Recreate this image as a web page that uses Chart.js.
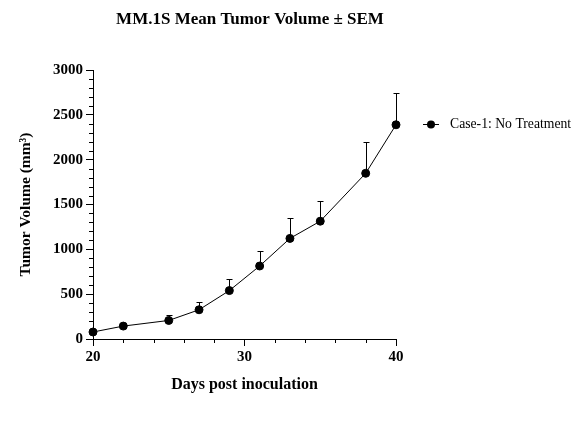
<!DOCTYPE html>
<html>
<head>
<meta charset="utf-8">
<script src="https://cdn.jsdelivr.net/npm/chart.js@4"></script>
<style>
  html, body { margin: 0; padding: 0; background: #fff; }
  #chart-container { position: relative; width: 581px; height: 424px; }
</style>
</head>
<body>
<div id="chart-container"><canvas id="chart" width="581" height="424"></canvas></div>
<script>
const days = [20, 22, 25, 27, 29, 31, 33, 35, 38, 40];
const meanVolume = [78, 144, 207, 326, 540, 814, 1122, 1314, 1848, 2389];
const semVolume = [6, 10, 60, 92, 127, 167, 222, 230, 352, 355];
const yTicks = [0, 500, 1000, 1500, 2000, 2500, 3000];
const xTicks = [20, 30, 40];

const serif = "'Liberation Serif', 'Times New Roman', serif";

// error bars (upper only) + minor ticks + title + legend
const extras = {
  id: 'extras',
  beforeDatasetsDraw(chart) {
    const c = chart.ctx;
    const xs = chart.scales.x, ys = chart.scales.y;
    c.save();
    c.strokeStyle = '#000';
    c.lineWidth = 1;
    days.forEach((d, i) => {
      const px = Math.round(xs.getPixelForValue(d)) + 0.5;
      const y0 = ys.getPixelForValue(meanVolume[i]);
      const y1 = Math.round(ys.getPixelForValue(meanVolume[i] + semVolume[i])) + 0.5;
      c.beginPath();
      c.moveTo(px, y0);
      c.lineTo(px, y1);
      c.moveTo(px - 3, y1);
      c.lineTo(px + 3, y1);
      c.stroke();
    });
    c.restore();
  },
  afterDraw(chart) {
    const c = chart.ctx;
    const xs = chart.scales.x, ys = chart.scales.y;
    const area = chart.chartArea;
    c.save();
    c.strokeStyle = '#000';
    c.lineWidth = 1;
    c.beginPath();
    for (let v = 100; v < 3000; v += 100) {
      if (v % 500 === 0) continue;
      const py = Math.round(ys.getPixelForValue(v)) + 0.5;
      c.moveTo(area.left - 4, py);
      c.lineTo(area.left, py);
    }
    for (let v = 22; v < 40; v += 2) {
      if (v % 10 === 0) continue;
      const px = Math.round(xs.getPixelForValue(v)) + 0.5;
      c.moveTo(px, area.bottom);
      c.lineTo(px, area.bottom + 4);
    }
    c.stroke();

    // title
    c.fillStyle = '#000';
    c.font = 'bold 17px ' + serif;
    c.textAlign = 'center';
    c.textBaseline = 'middle';
    c.fillText('MM.1S Mean Tumor Volume ± SEM', 250, 20);

    // legend
    const ly = 124;
    c.beginPath();
    c.moveTo(423, ly + 0.5);
    c.lineTo(439, ly + 0.5);
    c.stroke();
    c.beginPath();
    c.arc(431, ly + 0.5, 4, 0, Math.PI * 2);
    c.fill();
    c.font = '13.7px ' + serif;
    c.textAlign = 'left';
    c.fillText('Case-1: No Treatment', 450, ly);
    c.restore();
  }
};

const ctx = document.getElementById('chart');

new Chart(ctx, {
  type: 'line',
  data: {
    datasets: [{
      label: 'Case-1: No Treatment',
      data: days.map((d, i) => ({ x: d, y: meanVolume[i] })),
      borderColor: '#000',
      backgroundColor: '#000',
      borderWidth: 1,
      pointRadius: 4,
      pointBackgroundColor: '#000',
      tension: 0,
      clip: false
    }]
  },
  options: {
    responsive: false,
    maintainAspectRatio: false,
    animation: false,
    devicePixelRatio: 1,
    layout: { padding: { left: 0, right: 185, top: 70, bottom: 0 } },
    plugins: {
      legend: { display: false },
      title: { display: false },
      tooltip: { enabled: false }
    },
    scales: {
      x: {
        type: 'linear',
        min: 20,
        max: 40,
        afterFit(s) { s.height = 85; },
        afterBuildTicks(s) { s.ticks = xTicks.map(v => ({ value: v })); },
        grid: { drawOnChartArea: false, tickLength: 7, color: '#000' },
        border: { color: '#000', width: 1 },
        ticks: {
          color: '#000', padding: 2,
          font: { family: serif, size: 15, weight: 'bold' },
          callback: v => String(v)
        },
        title: {
          display: true,
          text: 'Days post inoculation',
          color: '#000',
          font: { family: serif, size: 16, weight: 'bold' },
          padding: { top: 4, bottom: 30 }
        }
      },
      y: {
        min: 0,
        max: 3000,
        afterFit(s) { s.width = 93; },
        afterBuildTicks(s) { s.ticks = yTicks.map(v => ({ value: v })); },
        grid: { drawOnChartArea: false, tickLength: 7, color: '#000' },
        border: { color: '#000', width: 1 },
        ticks: {
          color: '#000', padding: 3,
          font: { family: serif, size: 15, weight: 'bold' },
          callback: v => String(v)
        },
        title: {
          display: true,
          text: 'Tumor Volume (mm³)',
          color: '#000',
          font: { family: serif, size: 15.5, weight: 'bold' },
          padding: { top: 17, bottom: 4 }
        }
      }
    }
  },
  plugins: [extras]
});
</script>
</body>
</html>
